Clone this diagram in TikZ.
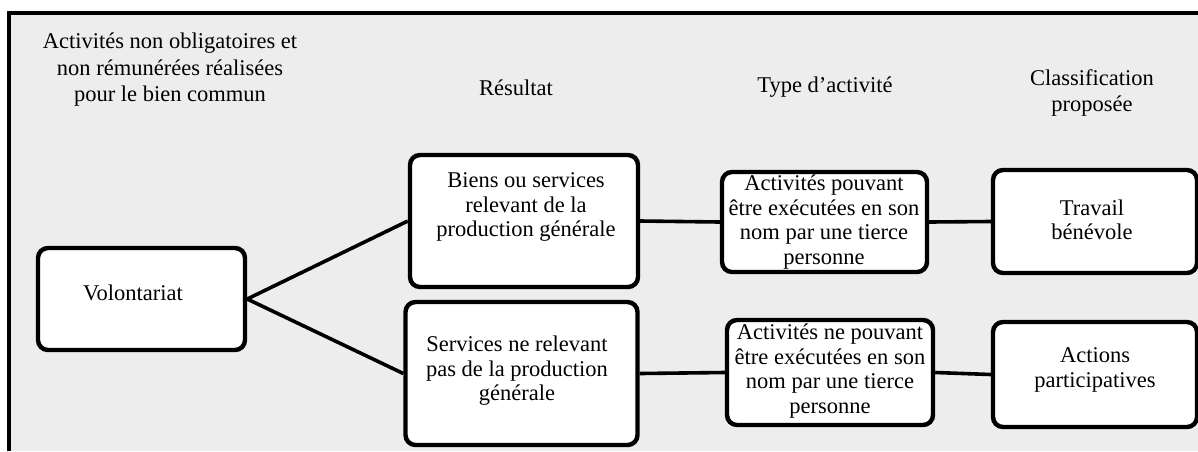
\documentclass[tikz,border=0pt]{standalone}
\usepackage{fontspec}
\setmainfont{Liberation Serif}
\begin{document}
\begin{tikzpicture}[x=1pt,y=-1pt,
  box/.style={draw=black, line width=4.4pt, rounded corners=10pt, fill=white, inner sep=0pt},
  txt/.style={align=center, inner sep=0pt, font=\fontsize{22.5}{24.5}\selectfont},
  hdr/.style={align=center, inner sep=0pt, font=\fontsize{22.5}{26.5}\selectfont},
  link/.style={draw=black, line width=3.6pt}]
\useasboundingbox (0,0) rectangle (1198,451);
\fill[white] (0,0) rectangle (1198,451);
\fill[black!7] (9,13) rectangle (1198,451);
\draw[line width=3.2pt] (9,451) -- (9,13) -- (1198,13);
% headers
\node[hdr] (h1) at (170,70) {Activités non obligatoires et\\non rémunérées réalisées\\pour le bien commun};
\node[hdr] (h2) at (516,88) {Résultat};
\node[hdr] (h3) at (825,87) {Type d’activité};
\node[hdr] (h4) at (1092,93) {Classification\\proposée};
% boxes
\node[box, minimum width=207pt, minimum height=102pt] (vol) at (141.5,299) {};
\node[box, minimum width=228pt, minimum height=132pt] (biens) at (524,221) {};
\node[box, minimum width=232pt, minimum height=143pt] (serv) at (521.5,373.5) {};
\node[box, minimum width=205pt, minimum height=100pt] (act1) at (824.5,222) {};
\node[box, minimum width=206pt, minimum height=105pt] (act2) at (830,372.5) {};
\node[box, minimum width=204pt, minimum height=103pt] (trav) at (1095,221.5) {};
\node[box, minimum width=204pt, minimum height=105pt] (acts) at (1095,374.5) {};
% texts
\node[txt] (volT) at (133,293) {Volontariat};
\node[txt] (biensT) at (526,207) {Biens ou services\\relevant de la\\production générale};
\node[txt] (servT) at (517,371) {Services ne relevant\\pas de la production\\générale};
\node[txt] (act1T) at (824,222) {Activités pouvant\\être exécutées en son\\nom par une tierce\\personne};
\node[txt] (act2T) at (830,371) {Activités ne pouvant\\être exécutées en son\\nom par une tierce\\personne};
\node[txt] (travT) at (1092,220) {Travail\\bénévole};
\node[txt] (actsT) at (1095,370) {Actions\\participatives};
% connectors
\draw[link] (vol.east) -- (biens.west);
\draw[link] (vol.east) -- (serv.west);
\draw[link] (biens.east) -- (act1.west);
\draw[link] (act1.east) -- (trav.west);
\draw[link] (serv.east) -- (act2.west);
\draw[link] (act2.east) -- (acts.west);
\end{tikzpicture}
\end{document}
